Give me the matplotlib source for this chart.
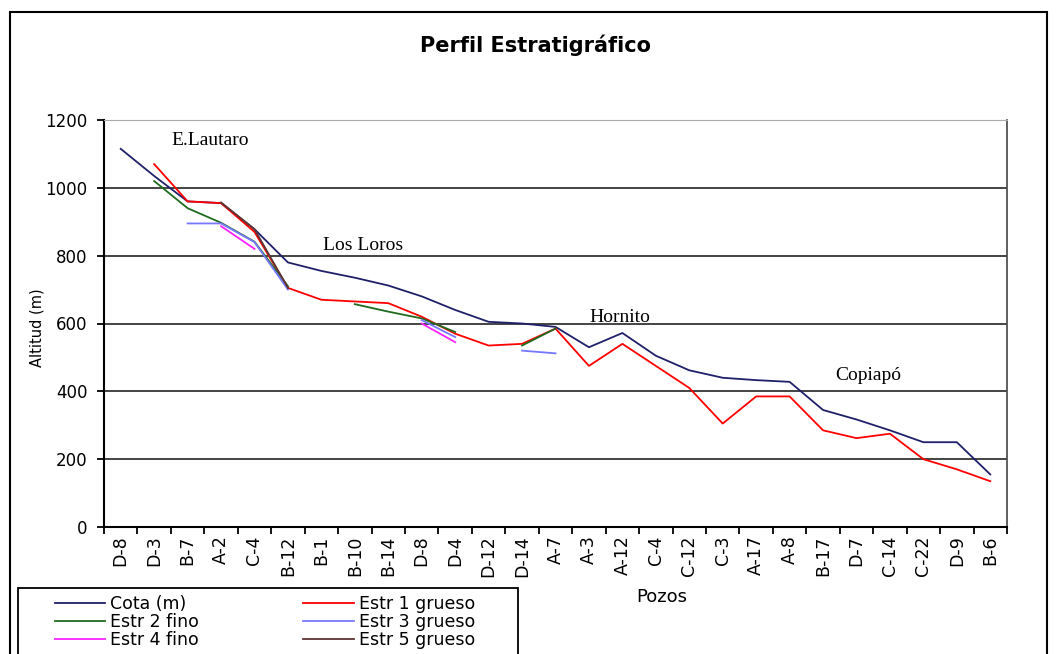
########################################################
# Required Python Packages
########################################################

import numpy as np
import matplotlib
matplotlib.use("Agg")
import matplotlib.pyplot as plt
from matplotlib.patches import Rectangle

########################################################
# Data
########################################################

nan = np.nan

pozos = ["D-8", "D-3", "B-7", "A-2", "C-4", "B-12", "B-1", "B-10", "B-14",
         "D-8", "D-4", "D-12", "D-14", "A-7", "A-3", "A-12", "C-4", "C-12",
         "C-3", "A-17", "A-8", "B-17", "D-7", "C-14", "C-22", "D-9", "B-6"]

cota = [1115, 1035, 960, 955, 878, 780, 755, 735, 712, 680, 640, 605, 600, 590,
        530, 572, 505, 462, 440, 433, 428, 345, 317, 285, 250, 250, 155]

estr1_grueso = [nan, 1070, 960, 955, 870, 705, 670, 665, 660, 620, 570, 535, 540,
                585, 475, 540, 475, 410, 305, 385, 385, 285, 262, 275, 200, 170, 135]

estr2_fino = [nan, 1020, 940, 897, 841, 710, nan, 657, 635, 615, 575, nan, 535,
              585] + [nan] * 13

estr3_grueso = [nan, nan, 895, 895, 840, 700, nan, nan, nan, 610, 560, nan, 520,
                512] + [nan] * 13

estr4_fino = [nan, nan, nan, 887, 820, nan, nan, nan, nan, 600, 545] + [nan] * 16

estr5_grueso = [nan, nan, nan, 957, 878, 705] + [nan] * 21

series_labels = ["Cota (m)", "Estr 1 grueso", "Estr 2 fino",
                 "Estr 3 grueso", "Estr 4 fino", "Estr 5 grueso"]

# annotations: (text, category position, altitude)
formaciones = [("E.Lautaro", 2.67, 1141), ("Los Loros", 7.25, 831),
               ("Hornito", 14.91, 619), ("Copiapó", 22.36, 448)]

########################################################
# Plot
########################################################

def Plot_Perfil():
    W, H = 1058, 654
    fig = plt.figure(figsize=(W / 100, H / 100), dpi=100)
    ax = fig.add_axes([104 / W, 1 - 527 / H, 903 / W, 407 / H])

    x = np.arange(len(pozos))
    colors = ["#20206a", "#ff0000", "#1f6b1f", "#7777ff", "#ff22ff", "#5e3535"]
    data = [cota, estr1_grueso, estr2_fino, estr3_grueso, estr4_fino, estr5_grueso]
    lines = []
    for values, label, color in zip(data, series_labels, colors):
        ln, = ax.plot(x, values, color=color, lw=1.3, label=label)
        lines.append(ln)

    ax.set_xlim(-0.5, len(pozos) - 0.5)
    ax.set_ylim(0, 1200)
    ax.set_yticks(range(0, 1201, 200))
    ax.yaxis.grid(True, color="#111111", lw=1.1)
    ax.get_ygridlines()[-1].set_visible(False)

    ax.set_xticks(x)
    ax.set_xticklabels(pozos, rotation=90, fontsize=12.5)
    ax.set_xticks(np.arange(-0.5, len(pozos), 1), minor=True)
    ax.tick_params(axis="x", which="major", length=0, pad=6)
    ax.tick_params(axis="x", which="minor", length=5, width=1.3)
    ax.tick_params(axis="y", length=5, width=1.3, pad=7, labelsize=12)

    for side in ["left", "bottom"]:
        ax.spines[side].set_linewidth(1.5)
    ax.spines["top"].set_color("#aaaaaa")
    ax.spines["right"].set_color("#444444")
    ax.spines["right"].set_linewidth(1.2)

    for txt, px, py in formaciones:
        ax.text(px, py, txt, fontsize=14, family="Liberation Serif",
                ha="center", va="center")

    fig.text(535.5 / W, 1 - 45 / H, "Perfil Estratigráfico", fontsize=15,
             fontweight="bold", ha="center", va="center")
    fig.text(662 / W, 1 - 597 / H, "Pozos", fontsize=13, ha="center", va="center")
    fig.text(37 / W, 1 - 328 / H, "Altitud (m)", fontsize=10.5, rotation=90,
             ha="center", va="center")

    # outer chart border and legend box
    fig.add_artist(Rectangle((10 / W, -0.05), 1037 / W, 1.05 - 12 / H,
                             transform=fig.transFigure, fill=False, lw=1.5, ec="black"))
    fig.add_artist(Rectangle((18 / W, -0.05), 500 / W, 0.05 + 1 - 588 / H,
                             transform=fig.transFigure, fill=False, lw=1.3, ec="black"))

    order = [0, 2, 4, 1, 3, 5]
    fig.legend([lines[i] for i in order], [series_labels[i] for i in order],
               loc="upper left", bbox_to_anchor=(46 / W, 1 - 586 / H), ncol=2,
               frameon=False, fontsize=12.5, borderpad=0, handlelength=2.9,
               handletextpad=0.3, labelspacing=0.0, columnspacing=6.0)

    fig.savefig("out.png", dpi=100)

########################################################
# Run Main
########################################################

if __name__ == "__main__":
    Plot_Perfil()
